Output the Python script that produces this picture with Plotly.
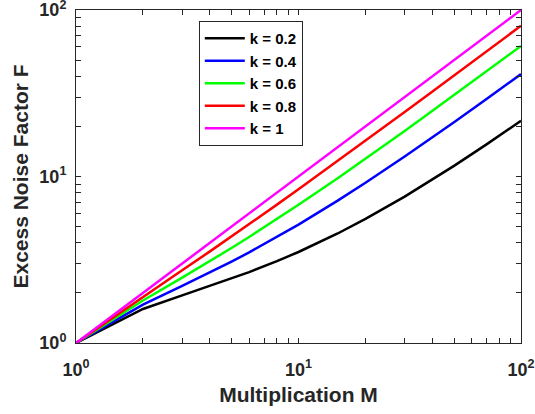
import plotly.graph_objects as go

M = [1, 2, 3, 4, 5, 6, 8, 10, 15, 20, 30, 40, 50, 70, 100]
F_k02 = [1.0, 1.6, 1.933, 2.2, 2.44, 2.667, 3.1, 3.52, 4.547, 5.56, 7.573, 9.58, 11.584, 15.589, 21.592]
F_k04 = [1.0, 1.7, 2.2, 2.65, 3.08, 3.5, 4.325, 5.14, 7.16, 9.17, 13.18, 17.185, 21.188, 29.191, 41.194]
F_k06 = [1.0, 1.8, 2.467, 3.1, 3.72, 4.333, 5.55, 6.76, 9.773, 12.78, 18.787, 24.79, 30.792, 42.794, 60.796]
F_k08 = [1.0, 1.9, 2.733, 3.55, 4.36, 5.167, 6.775, 8.38, 12.387, 16.39, 24.393, 32.395, 40.396, 56.397, 80.398]
F_k10 = [1, 2, 3, 4, 5, 6, 8, 10, 15, 20, 30, 40, 50, 70, 100]

series = [("k = 0.2", F_k02, "#000000"), ("k = 0.4", F_k04, "#0000ff"),
          ("k = 0.6", F_k06, "#00ff00"), ("k = 0.8", F_k08, "#ff0000"),
          ("k = 1", F_k10, "#ff00ff")]

tick_vals = [1, 2, 3, 4, 5, 6, 7, 8, 9, 10, 20, 30, 40, 50, 60, 70, 80, 90, 100]
major_labels = {1: "<b>10<sup>0</sup></b>", 10: "<b>10<sup>1</sup></b>", 100: "<b>10<sup>2</sup></b>"}
tick_text = [major_labels.get(v, "") for v in tick_vals]

FONT = "Liberation Sans, Arial"

fig = go.Figure()
for name, ys, col in series:
    fig.add_trace(go.Scatter(x=M, y=ys, mode="lines", name="<b>" + name + "</b>",
                             line=dict(color=col, width=2.5)))

axis_common = dict(
    type="log", showgrid=False, zeroline=False,
    showline=True, linecolor="#262626", linewidth=1, mirror="ticks",
    ticks="inside", ticklen=5, tickcolor="#262626",
    tickmode="array", tickvals=tick_vals, ticktext=tick_text,
    tickfont=dict(family=FONT, size=18, color="#262626"),
    ticklabeloverflow="allow", automargin=False,
)

fig.update_layout(
    width=535, height=414,
    margin=dict(l=76, r=14, t=10, b=71),
    paper_bgcolor="white", plot_bgcolor="white",
    xaxis=dict(range=[0, 2], **axis_common, ticklabelstandoff=10,
               title=dict(text="<b>Multiplication M</b>", standoff=8,
                          font=dict(family=FONT, size=21, color="#262626"))),
    yaxis=dict(range=[0, 2], **axis_common, ticklabelstandoff=5,
               title=dict(text="<b>Excess Noise Factor F</b>", standoff=5,
                          font=dict(family=FONT, size=21, color="#262626"))),
    legend=dict(x=0.276, y=0.967, xanchor="left", yanchor="top",
                bgcolor="white", bordercolor="#262626", borderwidth=1,
                font=dict(family=FONT, size=15, color="#000000"),
                tracegroupgap=0, itemwidth=40),
    showlegend=True,
)

fig.write_html("out.html")
